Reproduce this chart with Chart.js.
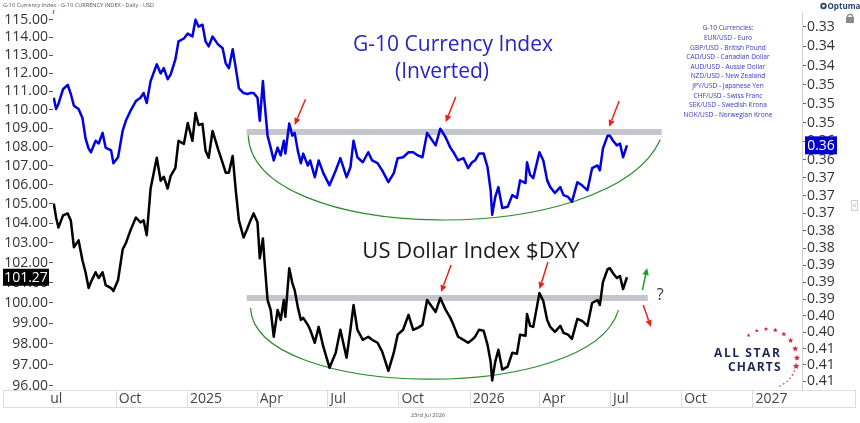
<!DOCTYPE html>
<html><head><meta charset="utf-8">
<script src="https://cdn.jsdelivr.net/npm/chart.js@4.4.1/dist/chart.umd.min.js"></script>
<style>html,body{margin:0;padding:0;background:#fff;overflow:hidden}canvas{display:block}</style>
</head><body>
<canvas id="c" width="860" height="423"></canvas>
<script>
// ---------------- DATA ----------------
const dates = ['2024-07-13','2024-07-16','2024-07-19','2024-07-25','2024-07-31','2024-08-04','2024-08-08','2024-08-14','2024-08-19','2024-08-23','2024-08-27','2024-08-30','2024-09-05','2024-09-09','2024-09-14','2024-09-18','2024-09-25','2024-09-28','2024-10-04','2024-10-10','2024-10-14','2024-10-20','2024-10-27','2024-11-02','2024-11-06','2024-11-10','2024-11-15','2024-11-23','2024-11-28','2024-12-02','2024-12-07','2024-12-11','2024-12-17','2024-12-21','2024-12-28','2025-01-02','2025-01-08','2025-01-12','2025-01-16','2025-01-21','2025-01-25','2025-01-29','2025-02-03','2025-02-10','2025-02-16','2025-02-20','2025-02-24','2025-03-01','2025-03-05','2025-03-09','2025-03-15','2025-03-20','2025-03-24','2025-03-28','2025-04-02','2025-04-05','2025-04-09','2025-04-11','2025-04-15','2025-04-19','2025-04-23','2025-04-28','2025-05-02','2025-05-06','2025-05-08','2025-05-13','2025-05-17','2025-05-20','2025-05-24','2025-05-28','2025-05-31','2025-06-06','2025-06-09','2025-06-15','2025-06-20','2025-06-26','2025-07-04','2025-07-12','2025-07-18','2025-07-26','2025-07-31','2025-08-04','2025-08-09','2025-08-16','2025-08-23','2025-08-28','2025-09-04','2025-09-10','2025-09-18','2025-09-25','2025-09-30','2025-10-07','2025-10-14','2025-10-20','2025-10-26','2025-11-01','2025-11-07','2025-11-18','2025-11-24','2025-12-01','2025-12-07','2025-12-11','2025-12-17','2025-12-24','2025-12-30','2026-01-04','2026-01-08','2026-01-13','2026-01-19','2026-01-24','2026-01-28','2026-01-30','2026-02-03','2026-02-07','2026-02-12','2026-02-19','2026-02-25','2026-03-03','2026-03-07','2026-03-14','2026-03-16','2026-03-20','2026-03-24','2026-04-01','2026-04-06','2026-04-11','2026-04-15','2026-04-21','2026-04-28','2026-05-02','2026-05-08','2026-05-13','2026-05-20','2026-05-26','2026-06-02','2026-06-08','2026-06-15','2026-06-18','2026-06-22','2026-06-28','2026-07-01','2026-07-05','2026-07-10','2026-07-14','2026-07-18','2026-07-23'];

// G-10 Currency Index, inverted (right axis)
const g10Inverted = [0.3487,0.3511,0.3500,0.3469,0.3460,0.3479,0.3504,0.3511,0.3530,0.3574,0.3596,0.3604,0.3579,0.3585,0.3562,0.3594,0.3600,0.3628,0.3615,0.3557,0.3536,0.3515,0.3494,0.3487,0.3477,0.3498,0.3452,0.3417,0.3436,0.3425,0.3448,0.3438,0.3407,0.3370,0.3364,0.3354,0.3360,0.3326,0.3340,0.3336,0.3370,0.3380,0.3360,0.3376,0.3384,0.3415,0.3425,0.3386,0.3425,0.3467,0.3477,0.3479,0.3477,0.3477,0.3487,0.3536,0.3452,0.3494,0.3568,0.3594,0.3622,0.3594,0.3611,0.3579,0.3607,0.3542,0.3568,0.3562,0.3600,0.3628,0.3607,0.3633,0.3622,0.3659,0.3622,0.3650,0.3677,0.3644,0.3617,0.3659,0.3637,0.3579,0.3615,0.3626,0.3604,0.3622,0.3628,0.3644,0.3670,0.3650,0.3617,0.3615,0.3604,0.3604,0.3611,0.3615,0.3562,0.3589,0.3553,0.3572,0.3594,0.3604,0.3622,0.3617,0.3639,0.3626,0.3622,0.3607,0.3607,0.3637,0.3688,0.3743,0.3703,0.3681,0.3728,0.3725,0.3699,0.3705,0.3666,0.3672,0.3626,0.3654,0.3661,0.3604,0.3622,0.3666,0.3681,0.3694,0.3681,0.3699,0.3703,0.3714,0.3670,0.3677,0.3688,0.3639,0.3633,0.3644,0.3596,0.3568,0.3568,0.3579,0.3589,0.3585,0.3615,0.3589];

// US Dollar Index $DXY (left axis)
const dxyValues = [105.02,104.30,103.79,104.41,104.51,104.15,102.78,103.13,102.12,101.52,100.73,101.03,101.52,101.23,101.52,100.88,100.73,100.58,101.13,102.68,102.98,103.64,104.30,104.05,104.15,103.39,105.80,107.42,106.21,106.42,105.80,106.47,106.89,108.32,108.16,109.28,108.32,109.82,109.17,109.23,107.79,107.42,108.85,107.89,107.15,106.63,106.63,107.52,105.69,104.15,103.28,103.74,104.15,104.51,104.05,102.22,103.23,102.12,100.14,99.65,98.34,99.65,99.16,100.14,99.31,101.72,100.98,100.63,99.80,99.16,99.26,98.92,98.68,98.05,98.82,97.86,96.85,97.57,98.68,97.33,98.68,99.89,98.68,98.19,98.34,98.19,98.05,97.62,96.70,97.57,98.44,98.68,99.41,98.68,98.77,98.92,100.14,99.55,100.24,99.65,99.26,98.92,98.34,98.19,98.05,98.19,98.34,98.68,98.63,97.95,97.14,96.24,97.14,97.71,96.76,96.90,97.57,97.52,98.44,98.39,99.45,98.87,98.82,100.48,100.09,99.16,98.82,98.58,98.87,98.53,98.44,98.24,99.21,99.11,98.87,99.99,100.14,99.89,101.03,101.67,101.72,101.47,101.23,101.33,100.68,101.27];

// tick labels
const leftTicks = [96,97,98,99,100,101,102,103,104,105,106,107,108,109,110,111,112,113,114,115];
const rightTicks = [0.334,0.338,0.342,0.346,0.350,0.354,0.358,0.362,0.366,0.370,0.374,0.378,0.382,0.386,0.390,0.394,0.398,0.402,0.406,0.410,0.414];
const xTickDates = ['2024-10-01','2025-01-01','2025-04-01','2025-07-01','2025-10-01','2026-01-01','2026-04-01','2026-07-01','2026-10-01','2027-01-01'];
const xTickLabels = ['Oct','2025','Apr','Jul','Oct','2026','Apr','Jul','Oct','2027'];
const firstTickDate = '2024-07-01', firstTickLabel = 'Jul';
const xRange = ['2024-07-12','2027-03-06'];
const leftRange = [95.79, 115.43];
const rightRange = [0.33104, 0.41626];

// annotations (data units)
const g10Band = {from:'2025-03-19', to:'2026-09-06', value:0.3560};
const dxyBand = {from:'2025-03-19', to:'2026-08-19', value:100.24};
const g10Arc = [['2025-03-21',0.3567],['2025-03-27',0.3812],['2026-07-01',0.3824],['2026-09-04',0.3577]];
const dxyArc = [['2025-03-24',99.74],['2025-03-30',95.32],['2026-06-06',95.08],['2026-07-12',99.64]];
const g10Arrows = [[['2025-06-03',0.3490],['2025-05-20',0.3545]],[['2025-12-14',0.3485],['2025-12-01',0.3539]],[['2026-07-13',0.3494],['2026-06-30',0.3549]]];
const dxyArrows = [[['2025-12-08',101.88],['2025-11-25',100.53]],[['2026-04-12',102.03],['2026-04-01',100.68]]];
const upArrow = [['2026-08-12',100.63],['2026-08-18',101.73]];
const downArrow = [['2026-08-13',99.89],['2026-08-23',98.81]];
const questionMark = ['2026-09-04',100.38];
const currencies = ['G-10 Currencies:','EUR/USD - Euro','GBP/USD - British Pound','CAD/USD - Canadian Dollar','AUD/USD - Aussie Dollar','NZD/USD - New Zealand','JPY/USD - Japanese Yen','CHF/USD - Swiss Franc','SEK/USD - Swedish Krona','NOK/USD - Norwegian Krone'];

// ---------------- HELPERS ----------------
const BASE = Date.UTC(2024, 6, 1);
const toDay = s => { const [y,m,d] = s.split('-').map(Number); return (Date.UTC(y, m-1, d) - BASE) / 86400000; };
const FONT = "'Open Sans', 'DejaVu Sans', sans-serif";
Chart.defaults.font.family = FONT;

const g10Data = dates.map((d,i) => ({x: toDay(d), y: g10Inverted[i]}));
const dxyData = dates.map((d,i) => ({x: toDay(d), y: dxyValues[i]}));

function arrow(ctx, x1, y1, x2, y2, color){
  const a = Math.atan2(y2-y1, x2-x1), hl = 7, hw = 3.2;
  const bx = x2 - hl*Math.cos(a), by = y2 - hl*Math.sin(a);
  ctx.strokeStyle = color; ctx.fillStyle = color; ctx.lineWidth = 1.5;
  ctx.beginPath(); ctx.moveTo(x1,y1); ctx.lineTo(bx,by); ctx.stroke();
  ctx.beginPath(); ctx.moveTo(x2,y2);
  ctx.lineTo(bx + hw*Math.sin(a), by - hw*Math.cos(a));
  ctx.lineTo(bx - hw*Math.sin(a), by + hw*Math.cos(a));
  ctx.closePath(); ctx.fill();
}
function star(ctx, cx, cy, r){
  ctx.beginPath();
  for (let i=0;i<10;i++){
    const rr = i%2 ? r*0.45 : r, a = -Math.PI/2 + i*Math.PI/5;
    ctx.lineTo(cx + rr*Math.cos(a), cy + rr*Math.sin(a));
  }
  ctx.closePath(); ctx.fill();
}

const annot = {
  id: 'annot',
  beforeDatasetsDraw(chart){
    const {ctx, scales:{x, yL, yR}} = chart;
    const P = (s, d, v) => [x.getPixelForValue(toDay(d)), s.getPixelForValue(v)];
    ctx.save();
    ctx.strokeStyle = '#c5c5cd'; ctx.lineWidth = 6; ctx.lineCap = 'butt';
    [[yR, g10Band],[yL, dxyBand]].forEach(([s,b]) => {
      const a = P(s, b.from, b.value), c = P(s, b.to, b.value);
      ctx.beginPath(); ctx.moveTo(a[0], a[1]); ctx.lineTo(c[0], c[1]); ctx.stroke();
    });
    ctx.strokeStyle = '#2e8b2e'; ctx.lineWidth = 1.2;
    [[yR, g10Arc],[yL, dxyArc]].forEach(([s,arc]) => {
      const p = arc.map(q => P(s, q[0], q[1]));
      ctx.beginPath(); ctx.moveTo(p[0][0], p[0][1]);
      ctx.bezierCurveTo(p[1][0], p[1][1], p[2][0], p[2][1], p[3][0], p[3][1]);
      ctx.stroke();
    });
    ctx.restore();
  },
  afterDraw(chart){
    const {ctx, chartArea, scales:{x, yL, yR}} = chart;
    const P = (s, d, v) => [x.getPixelForValue(toDay(d)), s.getPixelForValue(v)];
    ctx.save();
    // arrows
    g10Arrows.forEach(a => { const t = P(yR, ...a[0]), h = P(yR, ...a[1]); arrow(ctx, t[0], t[1], h[0], h[1], '#e8221c'); });
    dxyArrows.forEach(a => { const t = P(yL, ...a[0]), h = P(yL, ...a[1]); arrow(ctx, t[0], t[1], h[0], h[1], '#e8221c'); });
    { const t = P(yL, ...upArrow[0]), h = P(yL, ...upArrow[1]); arrow(ctx, t[0], t[1], h[0], h[1], '#1a9a2a'); }
    { const t = P(yL, ...downArrow[0]), h = P(yL, ...downArrow[1]); arrow(ctx, t[0], t[1], h[0], h[1], '#e8221c'); }
    { const q = P(yL, ...questionMark); ctx.fillStyle = '#333'; ctx.font = '16px ' + FONT; ctx.textAlign = 'center'; ctx.textBaseline = 'middle'; ctx.fillText('?', q[0], q[1]); }

    // chart titles
    ctx.textAlign = 'center'; ctx.textBaseline = 'middle';
    ctx.fillStyle = '#2424c8'; ctx.font = '21px ' + FONT;
    ctx.fillText('G-10 Currency Index', 453, 45);
    ctx.fillText('(Inverted)', 442, 72);
    ctx.fillStyle = '#1a1a1a'; ctx.font = '22px ' + FONT;
    ctx.fillText('US Dollar Index $DXY', 471, 252);

    // currency list
    ctx.fillStyle = '#3535c8'; ctx.font = '6.6px ' + FONT;
    currencies.forEach((t,i) => ctx.fillText(t, 728, 28.5 + i*9.6));

    // x axis strip
    const top = chartArea.bottom;
    ctx.strokeStyle = '#dcdcdc'; ctx.lineWidth = 1;
    ctx.strokeRect(3.5, top + 0.5, 852, 17);
    x.ticks.forEach(t => { const px = Math.round(x.getPixelForValue(t.value)) + 0.5; ctx.beginPath(); ctx.moveTo(px, top); ctx.lineTo(px, top + 18); ctx.stroke(); });
    // clipped first label
    ctx.save(); ctx.beginPath(); ctx.rect(50, top + 1, 30, 16); ctx.clip();
    ctx.fillStyle = '#444'; ctx.font = '14px ' + FONT; ctx.textAlign = 'left'; ctx.textBaseline = 'middle';
    ctx.fillText(firstTickLabel, x.getPixelForValue(toDay(firstTickDate)) + 2, top + 9);
    ctx.restore();

    // header & footer
    ctx.textAlign = 'left'; ctx.textBaseline = 'middle';
    ctx.fillStyle = '#555'; ctx.font = '5.6px ' + FONT;
    ctx.fillText('G-10 Currency Index - G-10 CURRENCY INDEX - Daily - USD', 3, 5);
    ctx.textAlign = 'center';
    ctx.fillText('23rd Jul 2026', 428, 415);
    ctx.strokeStyle = '#e03030'; ctx.lineWidth = 1;
    ctx.beginPath(); ctx.moveTo(54, 10); ctx.lineTo(53, 14); ctx.stroke();

    // last value boxes
    const ly = yL.getPixelForValue(dxyValues[dxyValues.length-1]);
    ctx.fillStyle = '#000'; ctx.fillRect(3, ly - 8.5, 46, 17);
    ctx.fillStyle = '#fff'; ctx.font = '14px ' + FONT; ctx.textAlign = 'center';
    ctx.fillText(dxyValues[dxyValues.length-1].toFixed(2), 26, ly + 0.5);
    const ry = yR.getPixelForValue(g10Inverted[g10Inverted.length-1]);
    ctx.fillStyle = '#0000cc'; ctx.fillRect(805, ry - 9, 32, 18);
    ctx.fillStyle = '#fff';
    ctx.fillText(g10Inverted[g10Inverted.length-1].toFixed(2), 821, ry + 0.5);

    // Optuma logo + icons
    ctx.fillStyle = '#24466e'; ctx.beginPath(); ctx.arc(823.5, 6, 3.2, 0, Math.PI*2); ctx.fill();
    ctx.fillStyle = '#fff'; ctx.beginPath(); ctx.arc(823.5, 6, 1.4, 0, Math.PI*2); ctx.fill();
    ctx.fillStyle = '#24466e'; ctx.font = 'bold 8px ' + FONT; ctx.textAlign = 'left';
    ctx.fillText('Optuma', 827.5, 6.5);
    ctx.fillStyle = '#8a8a8a'; ctx.fillRect(846, 17, 8, 6);
    ctx.strokeStyle = '#8a8a8a'; ctx.lineWidth = 1.3; ctx.beginPath(); ctx.arc(850, 17, 2.6, Math.PI, 0); ctx.stroke();
    ctx.strokeStyle = '#d0d0d0'; ctx.lineWidth = 1; ctx.strokeRect(851.5, 200.5, 6, 10);
    ctx.fillStyle = '#999'; ctx.font = '7px ' + FONT; ctx.textAlign = 'center'; ctx.fillText('<', 854.5, 205.5);

    // All Star Charts logo
    ctx.fillStyle = '#1b2657'; ctx.font = 'bold 12px ' + FONT; ctx.textAlign = 'left'; ctx.textBaseline = 'alphabetic';
    ctx.letterSpacing = '1.6px'; ctx.fillText('ALL STAR', 714, 357);
    ctx.letterSpacing = '1.2px'; ctx.fillText('CHARTS', 728, 371);
    ctx.letterSpacing = '0px';
    ctx.fillStyle = '#d62640';
    const angs = [-128,-110,-92,-74,-56,-38,-20,-2,14];
    angs.forEach((a,i) => { const r = a*Math.PI/180; star(ctx, 767 + 30*Math.cos(r), 359 + 30*Math.sin(r), 2 + i*0.18); });
    [24,32,40,48,56,64].forEach(a => { const r = a*Math.PI/180; ctx.beginPath(); ctx.arc(767 + 30*Math.cos(r), 359 + 30*Math.sin(r), 0.8, 0, Math.PI*2); ctx.fill(); });
    ctx.restore();
  }
};

const tickFont = {family: FONT, size: 14};
new Chart(document.getElementById('c'), {
  type: 'line',
  data: { datasets: [
    {label:'G-10 Currency Index (Inverted)', data:g10Data, yAxisID:'yR', borderColor:'#0000e0', borderWidth:2.5, pointRadius:0, tension:0, borderJoinStyle:'round', fill:false},
    {label:'US Dollar Index $DXY', data:dxyData, yAxisID:'yL', borderColor:'#000000', borderWidth:2.5, pointRadius:0, tension:0, borderJoinStyle:'round', fill:false}
  ]},
  options: {
    responsive:false, animation:false, devicePixelRatio:1,
    layout:{padding:{top:12, left:0, right:0, bottom:0}},
    plugins:{legend:{display:false}, tooltip:{enabled:false}},
    scales:{
      x:{ type:'linear', position:'bottom', min:toDay(xRange[0]), max:toDay(xRange[1]), bounds:'data',
          afterBuildTicks: s => { s.ticks = xTickDates.map(d => ({value: toDay(d)})); },
          ticks:{autoSkip:false, maxRotation:0, minRotation:0, align:'start', labelOffset:3, padding:1, font:tickFont, color:'#444', callback:(v,i) => xTickLabels[i]},
          grid:{display:true, drawOnChartArea:false, drawTicks:false}, border:{display:false},
          afterFit: s => { s.height = 33; } },
      yL:{ type:'logarithmic', position:'left', min:leftRange[0], max:leftRange[1], bounds:'data',
          afterBuildTicks: s => { s.ticks = leftTicks.map(v => ({value: v})); },
          ticks:{autoSkip:false, padding:1, font:tickFont, color:'#333', callback: v => Number(v).toFixed(2)},
          grid:{display:true, drawOnChartArea:false, drawTicks:true, tickLength:4, color:'#555'}, border:{display:false},
          afterFit: s => { s.width = 53; } },
      yR:{ type:'logarithmic', position:'right', reverse:true, min:rightRange[0], max:rightRange[1], bounds:'data',
          afterBuildTicks: s => { s.ticks = rightTicks.map(v => ({value: v})); },
          ticks:{autoSkip:false, padding:1, font:tickFont, color:'#333', callback: v => Number(v).toFixed(2)},
          grid:{display:true, drawOnChartArea:false, drawTicks:true, tickLength:4, color:'#666'}, border:{display:true, color:'#cfcfcf'},
          afterFit: s => { s.width = 58; } }
    }
  },
  plugins:[annot]
});
</script>
</body></html>
